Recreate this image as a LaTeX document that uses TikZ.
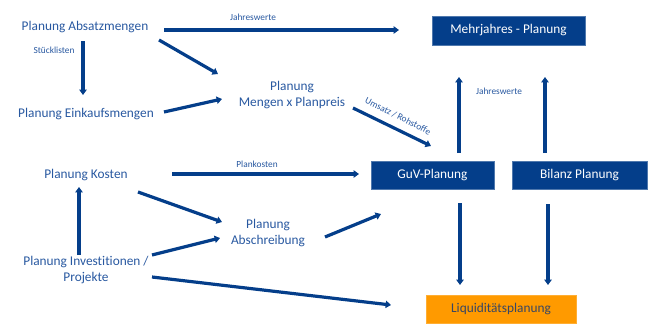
\documentclass[tikz,border=0pt]{standalone}
\usepackage{fontspec}
\setmainfont{Carlito}[Ligatures=NoCommon]
\usetikzlibrary{arrows.meta}
\definecolor{navy}{RGB}{4,62,138}
\definecolor{txtblue}{RGB}{40,88,160}
\definecolor{amber}{RGB}{255,154,0}
\definecolor{darktxt}{RGB}{55,70,100}
\tikzset{
  lbl/.style={text=txtblue, font=\fontsize{10}{12}\selectfont, align=center, inner sep=0pt},
  small/.style={text=txtblue, font=\fontsize{7}{8}\selectfont, inner sep=0pt},
  bluebox/.style={fill=navy, draw=navy!70!white, line width=0.4pt, text=white,
    font=\fontsize{10}{12}\selectfont, inner sep=0pt},
  orangebox/.style={fill=amber, draw=amber!80!white, line width=0.4pt, text=darktxt,
    font=\fontsize{10}{12}\selectfont, inner sep=0pt},
  flow/.style={draw=navy, line width=2.4pt, -{Triangle[length=4pt,width=5.5pt]}},
}
\begin{document}
\begin{tikzpicture}[x=0.75pt,y=-0.75pt]
\useasboundingbox (0,0) rectangle (662,332);

% boxes
\node[bluebox, minimum width=153*0.75pt, minimum height=29*0.75pt] (mehr) at (508.5,30.5) {Mehrjahres - Planung};
\node[bluebox, minimum width=123*0.75pt, minimum height=28*0.75pt] (guv) at (432.5,175) {GuV-Planung};
\node[bluebox, minimum width=135*0.75pt, minimum height=28*0.75pt] (bil) at (579.5,175) {Bilanz Planung};
\node[orangebox, minimum width=150*0.75pt, minimum height=28*0.75pt] (liq) at (501,309) {Liquiditätsplanung};

% text nodes
\node[lbl] (abs) at (85,27) {Planung Absatzmengen};
\node[lbl] (eink) at (86,114) {Planung Einkaufsmengen};
\node[lbl] (mpp) at (292,95) {Planung\\Mengen x Planpreis};
\node[lbl] (kost) at (86,175) {Planung Kosten};
\node[lbl] (absch) at (268,233) {Planung\\Abschreibung};
\node[lbl] (inv) at (86,270) {Planung Investitionen /\\Projekte};

% connector end points
\coordinate (a1) at (164,30);   \coordinate (b1) at (399,30);
\coordinate (a2) at (83,41);    \coordinate (b2) at (83,95);
\coordinate (a3) at (159,40);   \coordinate (b3) at (218,74);
\coordinate (a4) at (164,112);  \coordinate (b4) at (222,99);
\coordinate (a5) at (353,108);  \coordinate (b5) at (431,146);
\coordinate (a6) at (459,153);  \coordinate (b6) at (459,77);
\coordinate (a7) at (545,153);  \coordinate (b7) at (545,77);
\coordinate (a8) at (172,174);  \coordinate (b8) at (359,174);
\coordinate (a9) at (138,192);  \coordinate (b9) at (222,222);
\coordinate (a10) at (325,237); \coordinate (b10) at (381,214);
\coordinate (a11) at (152,255); \coordinate (b11) at (220,238);
\coordinate (a12) at (79,255);  \coordinate (b12) at (79,187);
\coordinate (a13) at (152,277); \coordinate (b13) at (391,305);
\coordinate (a14) at (460,203); \coordinate (b14) at (460,285);
\coordinate (a15) at (548,204); \coordinate (b15) at (548,285);

% connectors
\draw[flow] (a1) -- (b1);
\draw[flow] (a2) -- (b2);
\draw[flow] (a3) -- (b3);
\draw[flow] (a4) -- (b4);
\draw[flow] (a5) -- (b5);
\draw[flow] (a6) -- (b6);
\draw[flow] (a7) -- (b7);
\draw[flow] (a8) -- (b8);
\draw[flow] (a9) -- (b9);
\draw[flow] (a10) -- (b10);
\draw[flow] (a11) -- (b11);
\draw[flow] (a12) -- (b12);
\draw[flow] (a13) -- (b13);
\draw[flow] (a14) -- (b14);
\draw[flow] (a15) -- (b15);

% connector labels
\node[small] (l1) at (253,17) {Jahreswerte};
\node[small] (l2) at (54,50) {Stücklisten};
\node[small, rotate=-27] (l3) at (398,116) {Umsatz / Rohstoffe};
\node[small] (l4) at (499,91) {Jahreswerte};
\node[small] (l5) at (257,164) {Plankosten};
\end{tikzpicture}
\end{document}
